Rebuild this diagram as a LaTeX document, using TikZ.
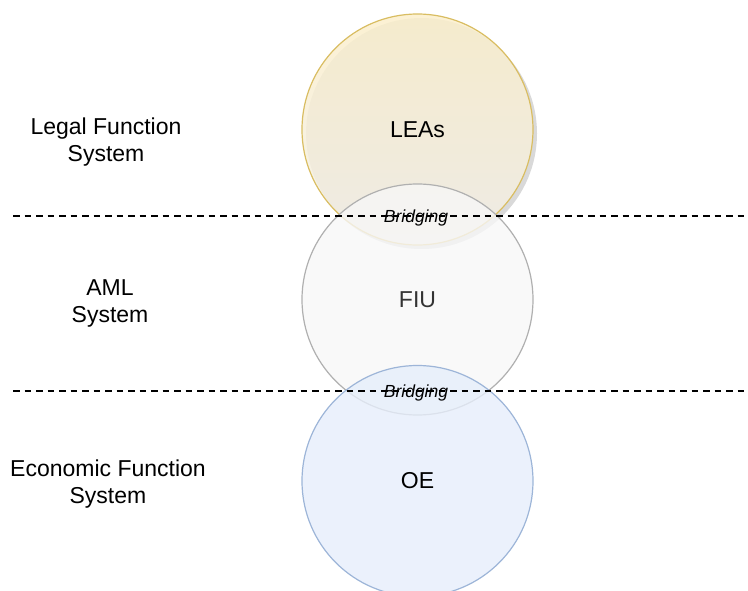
\documentclass[tikz,border=0pt]{standalone}
\usepackage{fontspec}
\setmainfont{Liberation Sans}
\usetikzlibrary{shadows}
\definecolor{leastroke}{HTML}{D9BD62}
\definecolor{leatop}{HTML}{FBEFCB}
\definecolor{leabottom}{HTML}{F3F0E8}
\definecolor{fiustroke}{HTML}{B0B0B0}
\definecolor{fiufill}{HTML}{F7F7F7}
\definecolor{fiutext}{HTML}{333333}
\definecolor{oestroke}{HTML}{9DB5D8}
\definecolor{oefill}{HTML}{E6EEFB}
\begin{document}
\begin{tikzpicture}[x=1pt,y=1pt,
  sphere/.style={circle, minimum size=231pt, inner sep=0pt, line width=1.2pt,
    font=\fontsize{23}{27}\selectfont},
  sysname/.style={align=center, font=\fontsize{23}{27}\selectfont},
  bridge/.style={inner sep=0pt, font=\fontsize{17.5}{20}\selectfont\itshape},
  divider/.style={line width=1.3pt, dash pattern=on 6.5pt off 5pt}]
\useasboundingbox (0,0) rectangle (748,-591);

% the three spheres
\node[sphere, draw=leastroke, top color=leatop, bottom color=leabottom,
  fill opacity=0.85, text opacity=1,
  drop shadow={shadow xshift=4pt, shadow yshift=-4pt, opacity=0.25, fill=black!60}]
  (lea) at (417.5,-129.5) {LEAs};
\node[sphere, draw=fiustroke, fill=fiufill, fill opacity=0.8, text opacity=1,
  text=fiutext] (fiu) at (417.5,-299.5) {FIU};
\node[sphere, draw=oestroke, fill=oefill, fill opacity=0.8, text opacity=1]
  (oe) at (417.5,-481) {OE};

% boundaries between the function systems
\coordinate (d1a) at (13,-216);
\coordinate (d1b) at (748,-216);
\coordinate (d2a) at (13,-391);
\coordinate (d2b) at (748,-391);
\draw[divider] (d1a) -- (d1b);
\draw[divider] (d2a) -- (d2b);

\node[bridge] (br1) at (416,-218) {Bridging};
\node[bridge] (br2) at (416,-392.5) {Bridging};

% system names
\node[sysname] (legal) at (106,-142) {Legal Function\\System};
\node[sysname] (aml) at (110,-303) {AML\\System};
\node[sysname] (econ) at (108,-484) {Economic Function\\System};
\end{tikzpicture}
\end{document}
